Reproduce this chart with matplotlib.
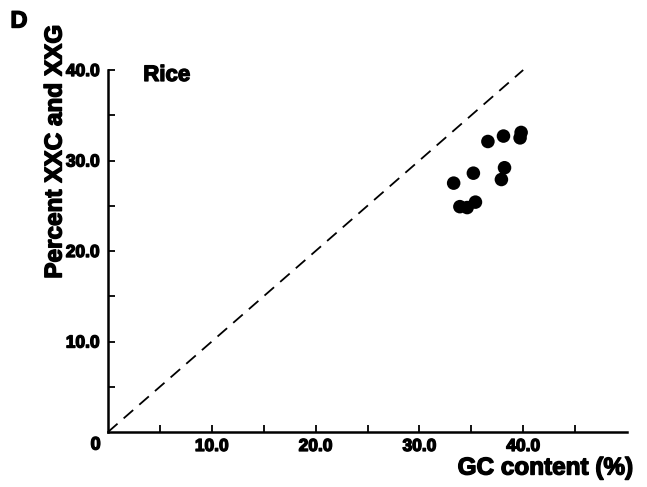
import matplotlib
matplotlib.use("Agg")
import matplotlib.pyplot as plt
import matplotlib.patheffects as pe
from matplotlib.ticker import FixedLocator, NullFormatter

# GC content (%) vs percent XXC and XXG codons, rice genes
gc_content = [36.6, 38.1, 39.8, 39.7, 35.2, 38.2, 37.9, 33.3, 33.9, 34.6, 35.4]
pct_xxc_xxg = [32.1, 32.7, 33.1, 32.5, 28.6, 29.2, 27.9, 27.5, 24.9, 24.8, 25.4]

x_ticks = [10, 20, 30, 40]
x_tick_labels = ["10.0", "20.0", "30.0", "40.0"]
y_ticks = [10, 20, 30, 40]
y_tick_labels = ["10.0", "20.0", "30.0", "40.0"]
x_minor = [5, 15, 25, 35, 45]
y_minor = [5, 15, 25, 35]
diag = [0, 40]

FONT = "Liberation Sans"
heavy = [pe.withStroke(linewidth=1.0, foreground="black")]

W, H = 647, 487
fig = plt.figure(figsize=(W / 100, H / 100), dpi=100)
ax = fig.add_axes([108 / W, (H - 432) / H, (627 - 108) / W, (432 - 70) / H])

ax.set_xlim(0, 50)
ax.set_ylim(0, 40)

# y = x reference line
ax.plot(diag, diag, color="black", lw=1.3, dashes=(7, 4.5), clip_on=False)

ax.scatter(gc_content, pct_xxc_xxg, s=95, color="black", edgecolors="none", zorder=3)

for side in ("top", "right"):
    ax.spines[side].set_visible(False)
for side in ("left", "bottom"):
    ax.spines[side].set_linewidth(1.8)

ax.xaxis.set_major_locator(FixedLocator(x_ticks))
ax.xaxis.set_minor_locator(FixedLocator(x_minor))
ax.yaxis.set_major_locator(FixedLocator(y_ticks))
ax.yaxis.set_minor_locator(FixedLocator(y_minor))
ax.set_xticklabels(x_tick_labels)
ax.set_yticklabels(y_tick_labels)
ax.xaxis.set_minor_formatter(NullFormatter())
ax.yaxis.set_minor_formatter(NullFormatter())

ax.tick_params(which="both", direction="in", length=5, width=1.3, colors="black")
ax.tick_params(axis="x", which="major", pad=5)
ax.tick_params(axis="y", which="major", pad=6)
for lab in ax.get_xticklabels() + ax.get_yticklabels():
    lab.set_fontfamily(FONT)
    lab.set_fontweight("bold")
    lab.set_fontsize(12.5)
    lab.set_path_effects(heavy)

# corner origin label
ax.text(-0.7, -0.5, "0", ha="right", va="top", fontsize=13, fontweight="bold",
        family=FONT, path_effects=heavy, clip_on=False)

ax.text(3.4, 39.4, "Rice", ha="left", va="center", fontsize=16, fontweight="bold",
        family=FONT, path_effects=heavy)

fig.text(633 / W, 1 - 468 / H, "GC content (%)", ha="right", va="center",
         fontsize=17.5, fontweight="bold", family=FONT, path_effects=heavy)
fig.text(55 / W, 1 - 152 / H, "Percent XXC and XXG", ha="center", va="center",
         rotation=90, fontsize=17.5, fontweight="bold", family=FONT, path_effects=heavy)
fig.text(19 / W, 1 - 21 / H, "D", ha="center", va="center",
         fontsize=17, fontweight="bold", family=FONT, path_effects=heavy)

fig.savefig("out.png", dpi=100, facecolor="white")
